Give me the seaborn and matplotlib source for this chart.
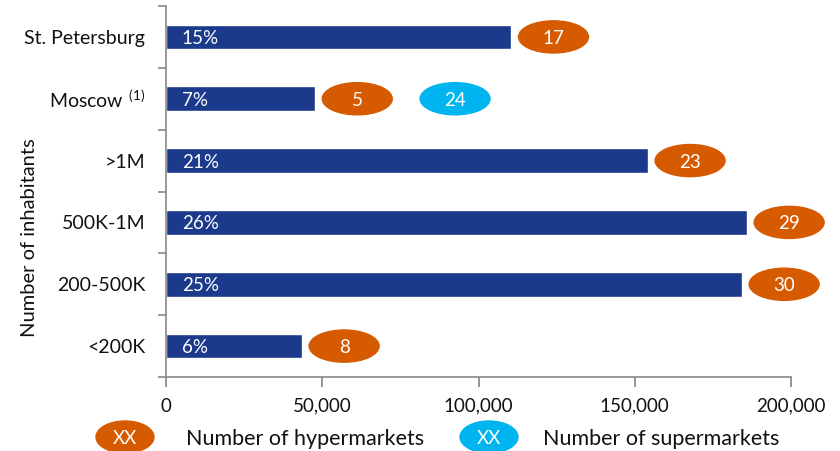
import matplotlib
matplotlib.use('Agg')
import matplotlib.pyplot as plt
import seaborn as sns
import pandas as pd
from matplotlib.patches import Ellipse
from matplotlib.ticker import FuncFormatter, FixedLocator

# data
cities = ["St. Petersburg", "Moscow", ">1M", "500K-1M", "200-500K", "<200K"]
population = [110500, 47700, 154200, 185900, 184300, 43500]
shares = ["15%", "7%", "21%", "26%", "25%", "6%"]
hypermarkets = [17, 5, 23, 29, 30, 8]
supermarkets = [None, 24, None, None, None, None]

BAR = "#1B3A8C"
ORANGE = "#D65A00"
CYAN = "#00B4F0"
FONT = ["Lato", "DejaVu Sans"]

sns.set_theme(style="white")
plt.rcParams['font.family'] = FONT
plt.rcParams['mathtext.fontset'] = 'custom'
plt.rcParams['mathtext.rm'] = 'Lato'
plt.rcParams['mathtext.default'] = 'regular'

df = pd.DataFrame({"city": cities, "pop": population})

fig = plt.figure(figsize=(8.4, 4.51), dpi=100)
ax = fig.add_axes([166 / 840, 1 - 377 / 451, 625 / 840, 371 / 451])
sns.barplot(data=df, y="city", x="pop", orient="h", color=BAR, width=0.4,
            saturation=1, ax=ax)

ax.set_xlim(0, 200000)
ax.set_ylim(len(cities) - 0.5, -0.5)
ax.xaxis.set_major_locator(FixedLocator([0, 50000, 100000, 150000, 200000]))
ax.xaxis.set_major_formatter(FuncFormatter(lambda v, p: f"{int(v):,}"))
ax.tick_params(axis="x", bottom=True, length=7, color="#888888", pad=8,
               labelsize=13.5, labelcolor="#111111")

labels = list(cities)
labels[1] = r"Moscow$\ ^{(1)}$"
ax.set_yticks(range(len(cities)))
ax.set_yticklabels(labels, fontsize=14, color="#111111")
ax.tick_params(axis="y", left=False, pad=9)
ax.set_yticks([i - 0.5 for i in range(len(cities) + 1)], minor=True)
ax.tick_params(axis="y", which="minor", left=True, length=6, color="#888888", width=1.2)

ax.set_xlabel("")
ax.set_ylabel("Number of inhabitants", fontsize=14.5, color="#111111")
ax.yaxis.set_label_coords(-0.205, 0.377)
for s in ["top", "right"]:
    ax.spines[s].set_visible(False)
for s in ["left", "bottom"]:
    ax.spines[s].set_color("#888888")
    ax.spines[s].set_linewidth(1.2)

ell_w = 22400
ell_h = 0.52
for i, (p, sh, hm, sm) in enumerate(zip(population, shares, hypermarkets, supermarkets)):
    ax.text(5000, i, sh, color="white", va="center_baseline", ha="left",
            fontsize=13.5)
    cx = p + 13500
    ax.add_patch(Ellipse((cx, i), ell_w, ell_h, color=ORANGE, clip_on=False))
    ax.text(cx, i, str(hm), color="white", ha="center", va="center_baseline",
            fontsize=13.5, clip_on=False)
    if sm is not None:
        cx2 = p + 44800
        ax.add_patch(Ellipse((cx2, i), ell_w, ell_h, color=CYAN, clip_on=False))
        ax.text(cx2, i, str(sm), color="white", ha="center", va="center_baseline",
                fontsize=13.5, clip_on=False)

# legend
ly = 1 - 437 / 451
for ex, tx, col, txt in [(125, 186, ORANGE, "Number of hypermarkets"),
                         (489, 543, CYAN, "Number of supermarkets")]:
    fig.add_artist(Ellipse((ex / 840, ly), 58 / 840, 32 / 451,
                           transform=fig.transFigure, color=col))
    fig.text(ex / 840, ly, "XX", color="white", ha="center", va="center_baseline",
             fontsize=13.5)
    fig.text(tx / 840, ly, txt, color="#111111", ha="left", va="center_baseline",
             fontsize=15.5)

fig.savefig("out.png", dpi=100)
